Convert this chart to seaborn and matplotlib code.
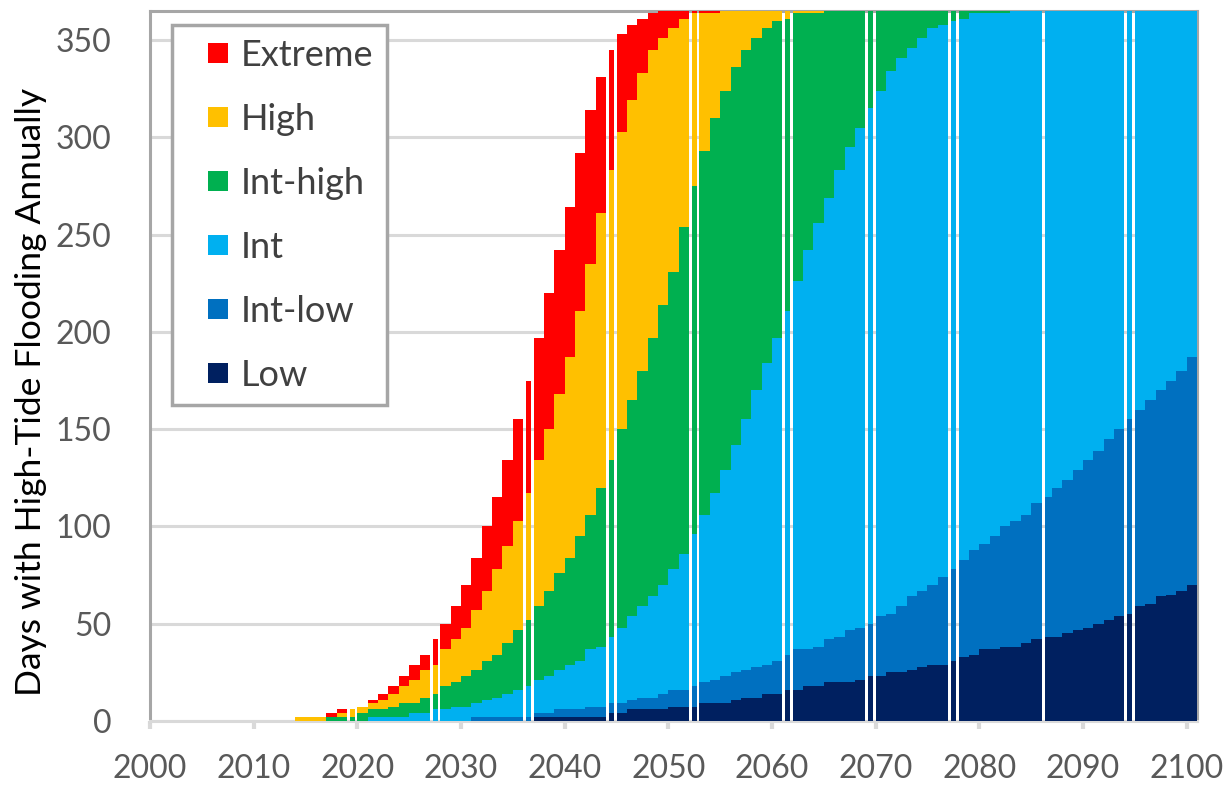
import matplotlib
matplotlib.use('Agg')
import matplotlib.pyplot as plt
from matplotlib.lines import Line2D
import seaborn as sns

# Days with high-tide flooding per year, one bar per year, scenarios overlap
years = list(range(2000, 2101))

extreme = [0, 0, 0, 0, 0, 0, 0, 0, 0, 0,
           0, 0, 0, 0, 2, 2, 2, 4, 6, 6,
           7, 11, 14, 18, 23, 29, 34, 42, 50, 59,
           70, 84, 100, 115, 134, 155, 175, 197, 220, 242,
           264, 292, 314, 331, 345, 353, 358, 361, 364, 365,
           365, 365, 365, 365, 365, 365, 365, 365, 365, 365,
           365, 365, 365, 365, 365, 365, 365, 365, 365, 365,
           365, 365, 365, 365, 365, 365, 365, 365, 365, 365,
           365, 365, 365, 365, 365, 365, 365, 365, 365, 365,
           365, 365, 365, 365, 365, 365, 365, 365, 365, 365,
           365]

high = [0, 0, 0, 0, 0, 0, 0, 0, 0, 0,
        0, 0, 0, 0, 2, 2, 2, 2, 4, 6,
        7, 9, 11, 14, 18, 21, 26, 29, 37, 42,
        48, 57, 67, 78, 90, 103, 117, 134, 150, 168,
        187, 211, 235, 261, 283, 303, 319, 333, 345, 351,
        356, 361, 364, 364, 364, 365, 365, 365, 365, 365,
        365, 365, 365, 365, 365, 365, 365, 365, 365, 365,
        365, 365, 365, 365, 365, 365, 365, 365, 365, 365,
        365, 365, 365, 365, 365, 365, 365, 365, 365, 365,
        365, 365, 365, 365, 365, 365, 365, 365, 365, 365,
        365]

int_high = [0, 0, 0, 0, 0, 0, 0, 0, 0, 0,
            0, 0, 0, 0, 0, 0, 0, 2, 2, 2,
            4, 6, 6, 7, 9, 9, 12, 14, 18, 20,
            23, 26, 31, 34, 40, 47, 52, 59, 67, 76,
            84, 95, 106, 120, 134, 150, 165, 180, 197, 214,
            231, 254, 275, 293, 310, 324, 336, 345, 351, 356,
            360, 361, 364, 364, 364, 365, 365, 365, 365, 365,
            365, 365, 365, 365, 365, 365, 365, 365, 365, 365,
            365, 365, 365, 365, 365, 365, 365, 365, 365, 365,
            365, 365, 365, 365, 365, 365, 365, 365, 365, 365,
            365]

intermediate = [0, 0, 0, 0, 0, 0, 0, 0, 0, 0,
                0, 0, 0, 0, 0, 0, 0, 0, 0, 0,
                0, 2, 2, 2, 2, 4, 4, 6, 6, 7,
                7, 9, 11, 12, 14, 16, 18, 21, 23, 26,
                29, 31, 37, 38, 43, 48, 54, 59, 64, 70,
                78, 86, 96, 106, 117, 129, 142, 155, 170, 184,
                197, 211, 226, 242, 256, 269, 283, 295, 305, 315,
                324, 334, 341, 346, 351, 356, 358, 360, 361, 364,
                364, 364, 364, 365, 365, 365, 365, 365, 365, 365,
                365, 365, 365, 365, 365, 365, 365, 365, 365, 365,
                365]

int_low = [0, 0, 0, 0, 0, 0, 0, 0, 0, 0,
           0, 0, 0, 0, 0, 0, 0, 0, 0, 0,
           0, 0, 0, 0, 0, 0, 0, 0, 0, 0,
           0, 2, 2, 2, 2, 2, 2, 4, 4, 6,
           6, 6, 7, 7, 9, 9, 11, 12, 12, 14,
           16, 16, 18, 20, 21, 23, 25, 26, 28, 29,
           31, 34, 37, 37, 38, 42, 43, 47, 48, 50,
           54, 55, 59, 64, 67, 70, 74, 78, 83, 88,
           91, 95, 100, 103, 106, 112, 115, 120, 124, 129,
           134, 139, 145, 150, 155, 160, 165, 170, 175, 180,
           187]

low = [0, 0, 0, 0, 0, 0, 0, 0, 0, 0,
       0, 0, 0, 0, 0, 0, 0, 0, 0, 0,
       0, 0, 0, 0, 0, 0, 0, 0, 0, 0,
       0, 0, 0, 0, 0, 0, 0, 2, 2, 2,
       2, 2, 2, 2, 4, 4, 6, 6, 6, 6,
       7, 7, 7, 9, 9, 9, 11, 12, 12, 14,
       14, 16, 16, 18, 18, 20, 20, 20, 21, 23,
       23, 25, 25, 26, 28, 29, 29, 31, 33, 34,
       37, 37, 38, 38, 40, 42, 43, 43, 45, 47,
       48, 50, 52, 54, 55, 59, 60, 64, 65, 67,
       70]

scenarios = ['Extreme', 'High', 'Int-high', 'Int', 'Int-low', 'Low']
series = [extreme, high, int_high, intermediate, int_low, low]
colors = ['#FF0000', '#FFC000', '#00B050', '#00B0F0', '#0070C0', '#002060']

# the original export draws a few bars narrower, leaving thin white slits
thin_years = [2019, 2027, 2036, 2044, 2052, 2061, 2069, 2077, 2094]
slit_left_years = [2086]

sns.set_style('white')
plt.rcParams['font.family'] = ['Lato', 'DejaVu Sans']

fig = plt.figure(figsize=(12.32, 7.89), dpi=100)
ax = fig.add_axes([0.1218, 0.0862, 0.8498, 0.8999])

# back to front: Extreme behind, Low in front
for name, vals, c in zip(scenarios, series, colors):
    sns.barplot(x=years, y=vals, color=c, saturation=1, width=1,
                native_scale=True, errorbar=None, linewidth=0,
                edgecolor='none', ax=ax, zorder=3)

for p in ax.patches:
    yr = round(p.get_x() + p.get_width() / 2)
    if yr in thin_years:
        p.set_x(yr - 0.25)
        p.set_width(0.5)
    elif yr in slit_left_years:
        p.set_x(yr - 0.2)
        p.set_width(0.7)

decades = list(range(2000, 2101, 10))
ax.set_xlim(years[0] - 0.5, years[-1] + 0.5)
ax.set_ylim(0, 365)
ax.set_xticks([d - 0.5 for d in decades])
ax.set_xticklabels([str(d) for d in decades])
ax.set_yticks(range(0, 351, 50))
ax.set_xlabel('')

ax.set_axisbelow(True)
ax.yaxis.grid(True, color='#D9D9D9', linewidth=2.2)
ax.xaxis.grid(False)

for side in ['left', 'right', 'top']:
    ax.spines[side].set_color('#A6A6A6')
    ax.spines[side].set_linewidth(2.2)
ax.spines['bottom'].set_color('#D9D9D9')
ax.spines['bottom'].set_linewidth(2.2)

ax.tick_params(axis='x', bottom=True, length=6, width=3, color='#D9D9D9',
               direction='out', pad=18, labelsize=23, labelcolor='#595959')
ax.tick_params(axis='y', left=False, length=0, pad=28, labelsize=23,
               labelcolor='#595959')

ax.set_ylabel('Days with High-Tide Flooding Annually', fontsize=25.5, color='black')
ax.yaxis.set_label_coords(-0.098, 0.463)

handles = [Line2D([], [], linestyle='none', marker='s', markersize=15,
                  markerfacecolor=c, markeredgewidth=0) for c in colors]
leg = ax.legend(handles, scenarios, loc='upper left', bbox_to_anchor=(0.021, 0.980),
                borderaxespad=0, fontsize=26, frameon=True, fancybox=False,
                edgecolor='#A6A6A6', framealpha=1, handlelength=1.83,
                handletextpad=-0.3, labelspacing=0.86, borderpad=0.37)
leg.get_frame().set_linewidth(2.5)
for t in leg.get_texts():
    t.set_color('#404040')

fig.savefig('out.png', dpi=100)
